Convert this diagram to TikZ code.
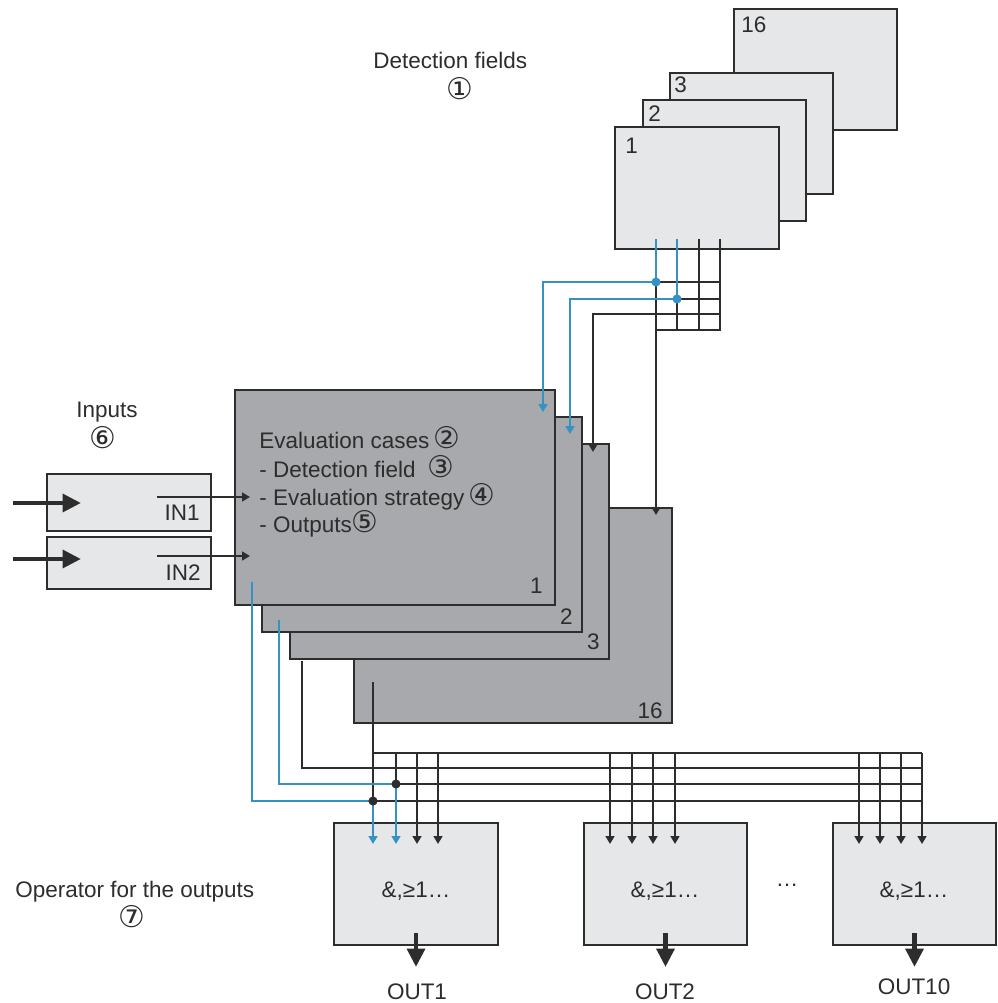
\documentclass[tikz,border=0pt]{standalone}
\usepackage{fontspec}
\setmainfont{Liberation Sans}
\newfontfamily\circfont{DejaVu Sans}
\usetikzlibrary{arrows.meta, positioning}
\definecolor{fieldgray}{RGB}{230,231,233}
\definecolor{casegray}{RGB}{168,169,172}
\definecolor{linegray}{RGB}{45,45,45}
\definecolor{wireblue}{RGB}{52,146,196}
\newcommand{\cnum}[1]{{\circfont\fontsize{17}{17}\selectfont #1}}
\tikzset{
  boxsize/.style 2 args={minimum width=#1*0.02cm, minimum height=#2*0.02cm},
  fieldbox/.style={draw=linegray, line width=1.3pt, fill=fieldgray, anchor=north west, inner sep=0pt, outer sep=0pt},
  casebox/.style={fieldbox, fill=casegray},
  lbl/.style={text=linegray, inner sep=0pt, font=\fontsize{12.8}{15}\selectfont},
  wire/.style={draw=linegray, line width=1.2pt},
  bluewire/.style={draw=wireblue, line width=1.2pt},
  tipped/.style={-{Triangle[length=4.5pt, width=5pt]}},
  fatarrow/.style={draw=linegray, line width=2.7pt, -{Triangle[length=10.5pt, width=10pt]}},
  junction/.style={circle, inner sep=0pt, minimum size=5.2pt}
}

\begin{document}
\begin{tikzpicture}[x=0.02cm, y=-0.02cm]
    \useasboundingbox (0,0) rectangle (997,1003);

    % detection fields
    \node[fieldbox, boxsize={163}{121}] (fld16) at (734,9) {};
    \node[fieldbox, boxsize={163}{121}] (fld3) at (670,73) {};
    \node[fieldbox, boxsize={163}{121}] (fld2) at (643,100) {};
    \node[fieldbox, boxsize={164}{122}] (fld1) at (615,127) {};
    \node[lbl, anchor=base west] (fld16num) at (741,33) {16};
    \node[lbl, anchor=base west] (fld3num) at (674,93) {3};
    \node[lbl, anchor=base west] (fld2num) at (648,122) {2};
    \node[lbl, anchor=base west] (fld1num) at (625,154) {1};
    \node[lbl, anchor=base west] (fieldslbl) at (373,69) {Detection fields};
    \node[lbl] (fieldsnum) at (460,89) {\cnum{①}};

    % evaluation cases
    \node[casebox, boxsize={318}{215}] (case16) at (354,508) {};
    \node[casebox, boxsize={319}{215}] (case3) at (290,444) {};
    \node[casebox, boxsize={320}{215}] (case2) at (262,417) {};
    \node[casebox, boxsize={320}{215}] (case1) at (235,390) {};
    \node[lbl, anchor=base east] (case16num) at (663,718) {16};
    \node[lbl, anchor=base east] (case3num) at (600,649) {3};
    \node[lbl, anchor=base east] (case2num) at (573,624) {2};
    \node[lbl, anchor=base east] (case1num) at (543,593) {1};
    \node[lbl, anchor=base west] (casetitle) at (259,448) {Evaluation cases\,\cnum{②}};
    \node[lbl, anchor=base west] (casefield) at (259,477) {- Detection field\hspace{7pt}\cnum{③}};
    \node[lbl, anchor=base west] (casestrat) at (259,505) {- Evaluation strategy\,\cnum{④}};
    \node[lbl, anchor=base west] (caseouts) at (259,532) {- Outputs\cnum{⑤}};

    % inputs
    \node[fieldbox, boxsize={164}{57}] (in1) at (47,474) {};
    \node[fieldbox, boxsize={164}{52}] (in2) at (47,537) {};
    \node[lbl, anchor=base east] (in1lbl) at (200,520) {IN1};
    \node[lbl, anchor=base east] (in2lbl) at (201,580) {IN2};
    \node[lbl, anchor=base west] (inputslbl) at (76,417) {Inputs};
    \node[lbl] (inputsnum) at (103,438) {\cnum{⑥}};
    \coordinate (in1src) at (13,503);
    \coordinate (in1tip) at (81,503);
    \coordinate (in2src) at (13,559);
    \coordinate (in2tip) at (81,559);
    \coordinate (in1lead) at (157,497);
    \coordinate (in2lead) at (157,556);
    \coordinate (case1feed1) at (250,497);
    \coordinate (case1feed2) at (250,556);
    \draw[fatarrow] (in1src) -- (in1tip);
    \draw[fatarrow] (in2src) -- (in2tip);
    \draw[wire, tipped] (in1lead) -- (case1feed1);
    \draw[wire, tipped] (in2lead) -- (case1feed2);

    % field bus
    \coordinate (tapA) at (656,239);
    \coordinate (tapB) at (677,239);
    \coordinate (tapC) at (699,239);
    \coordinate (tapD) at (720,239);
    \coordinate (jA) at (656,282);
    \coordinate (jB) at (677,299);
    \coordinate (rowC) at (720,314);
    \coordinate (gridBR) at (720,330);
    \coordinate (case1in) at (543,412);
    \coordinate (case2in) at (570,434);
    \coordinate (case3in) at (593,452);
    \coordinate (case16in) at (656,515);
    \draw[wire] (tapC) -- (tapC |- gridBR);
    \draw[wire] (tapD) -- (gridBR) -- (gridBR -| tapA);
    \draw[wire] (jA) -- (jA -| tapD);
    \draw[wire] (jB) -- (jB -| tapD);
    \draw[wire] (jB) -- (jB |- gridBR);
    \draw[wire, tipped] (jA) -- (case16in);
    \draw[wire, tipped] (rowC) -| (case3in);
    \draw[bluewire, tipped] (tapA) -- (jA) -| (case1in);
    \draw[bluewire, tipped] (tapB) -- (jB) -| (case2in);
    \node[junction, fill=wireblue] (dotA) at (jA) {};
    \node[junction, fill=wireblue] (dotB) at (jB) {};

    % operators
    \node[fieldbox, boxsize={164}{122}] (op1) at (334,823) {};
    \node[fieldbox, boxsize={163}{122}] (op2) at (584,823) {};
    \node[fieldbox, boxsize={163}{122}] (op10) at (833,823) {};
    \node[lbl, anchor=base] (op1txt) at (416,897) {\&,≥1…};
    \node[lbl, anchor=base] (op2txt) at (665,897) {\&,≥1…};
    \node[lbl, anchor=base] (op10txt) at (914,897) {\&,≥1…};
    \node[lbl, anchor=base] (opdots) at (787,886) {…};
    \node[lbl, anchor=base west] (oplbl) at (15,897) {Operator for the outputs};
    \node[lbl] (opnum) at (132,917) {\cnum{⑦}};
    \draw[fatarrow] ([yshift=0.24cm]op1.south) -- ([yshift=-0.44cm]op1.south);
    \draw[fatarrow] ([yshift=0.24cm]op2.south) -- ([yshift=-0.44cm]op2.south);
    \draw[fatarrow] ([yshift=0.24cm]op10.south) -- ([yshift=-0.44cm]op10.south);
    \node[lbl, anchor=base] (out1) at (417,999) {OUT1};
    \node[lbl, anchor=base] (out2) at (665,999) {OUT2};
    \node[lbl, anchor=base] (out10) at (914,994) {OUT10};

    % output bus
    \coordinate (case1out) at (252,582);
    \coordinate (case2out) at (279,620);
    \coordinate (case3out) at (302,661);
    \coordinate (case16out) at (373,682);
    \coordinate (busA) at (922,753);
    \coordinate (busB) at (922,768);
    \coordinate (busC) at (922,784);
    \coordinate (busD) at (922,801);
    \coordinate (jC) at (396,784);
    \coordinate (jD) at (373,801);
    \coordinate (opin) at (0,844);
    \draw[wire] (case16out) |- (busA);
    \draw[wire] (case3out) |- (busB);
    \draw[wire] (jC) -- (busC);
    \draw[wire] (jD) -- (busD);
    \draw[wire] (jC |- busA) -- (jC);
    \draw[wire] (jD |- busA) -- (jD);
    \foreach \x in {417,438,610,632,653,675,859,880,901,922}
        \draw[wire, tipped] (\x,0 |- busA) -- (\x,0 |- opin);
    \draw[bluewire, tipped] (case2out) |- (jC) -- (jC |- opin);
    \draw[bluewire, tipped] (case1out) |- (jD) -- (jD |- opin);
    \node[junction, fill=linegray] (dotC) at (jC) {};
    \node[junction, fill=linegray] (dotD) at (jD) {};
\end{tikzpicture}
\end{document}
